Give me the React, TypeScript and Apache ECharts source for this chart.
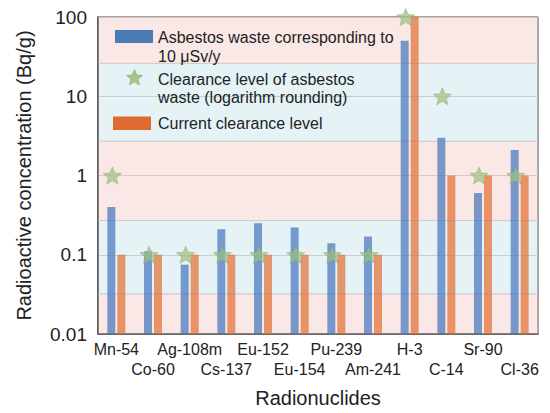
import React, { useEffect, useRef } from "react";
import * as echarts from "echarts";

const categories = [
  "Mn-54", "Co-60", "Ag-108m", "Cs-137", "Eu-152", "Eu-154",
  "Pu-239", "Am-241", "H-3", "C-14", "Sr-90", "Cl-36",
];
const asbestos10uSv = [0.4, 0.11, 0.075, 0.21, 0.25, 0.22, 0.14, 0.17, 50, 3.0, 0.6, 2.1];
const asbestosClearance = [1, 0.1, 0.1, 0.1, 0.1, 0.1, 0.1, 0.1, 100, 10, 1, 1];
const currentClearance = [0.1, 0.1, 0.1, 0.1, 0.1, 0.1, 0.1, 0.1, 100, 1, 1, 1];
const yTicks = [0.01, 0.1, 1, 10, 100];
const bandEdges = [0.01, 0.032, 0.27, 2.7, 26, 100];

const FONT = "'Liberation Sans', Arial, Helvetica, sans-serif";
const PINK = "rgba(238,188,182,0.34)";
const BLUE = "rgba(168,214,230,0.3)";
const BAR_W = 8;

function starPoints(cx: number, cy: number, r: number): number[][] {
  const pts: number[][] = [];
  for (let k = 0; k < 10; k++) {
    const a = ((-90 + 36 * k) * Math.PI) / 180;
    const rr = k % 2 === 0 ? r : r * 0.45;
    pts.push([cx + rr * Math.cos(a), cy + rr * Math.sin(a)]);
  }
  return pts;
}
const starPath =
  "path://" +
  starPoints(10, 10, 10)
    .map((p, i) => (i === 0 ? "M" : "L") + p[0].toFixed(3) + " " + p[1].toFixed(3))
    .join(" ") +
  " Z";

function barRenderer(offset: number, color: string) {
  return (params: any, api: any) => {
    const idx = api.value(0);
    const top = api.coord([idx, api.value(1)]);
    const base = api.coord([idx, yTicks[0]]);
    const cx = top[0] + offset;
    return {
      type: "rect",
      shape: { x: cx - BAR_W / 2, y: top[1], width: BAR_W, height: base[1] - top[1] },
      style: { fill: color },
    };
  };
}

export default function App() {
  const ref = useRef<HTMLDivElement>(null);
  useEffect(() => {
    if (!ref.current) return;
    const chart = echarts.init(ref.current, null, { renderer: "svg" });
    const bands = bandEdges.slice(0, -1).map((lo, i) => [
      { yAxis: lo, itemStyle: { color: i % 2 === 0 ? PINK : BLUE } },
      { yAxis: bandEdges[i + 1] },
    ]);
    chart.setOption({
      animation: false,
      textStyle: { fontFamily: FONT },
      grid: {
        left: 98,
        right: 12,
        top: 17,
        bottom: 75,
        show: true,
        backgroundColor: "#fff",
        borderColor: "#333",
        borderWidth: 1,
      },
      xAxis: {
        type: "category",
        data: categories,
        name: "Radionuclides",
        nameLocation: "middle",
        nameGap: 54,
        nameTextStyle: { fontSize: 20, color: "#222", fontFamily: FONT },
        axisLine: { lineStyle: { color: "#222", width: 1.5 } },
        axisTick: { show: false },
        axisLabel: {
          interval: 0,
          fontSize: 16,
          lineHeight: 20,
          margin: 5,
          color: "#222",
          fontFamily: FONT,
          formatter: (v: string, i: number) => (i % 2 === 1 ? "\n" + v : v),
        },
      },
      yAxis: {
        type: "log",
        logBase: 10,
        min: yTicks[0],
        max: yTicks[yTicks.length - 1],
        name: "Radioactive concentration (Bq/g)",
        nameLocation: "middle",
        nameGap: 64,
        nameTextStyle: { fontSize: 20, color: "#222", fontFamily: FONT },
        axisLine: { show: true, lineStyle: { color: "#222", width: 1.5 } },
        axisTick: { show: false },
        axisLabel: {
          fontSize: 19,
          color: "#222",
          margin: 11,
          fontFamily: FONT,
          formatter: (v: number) => String(v),
        },
        splitLine: { show: true, lineStyle: { color: "#cfcfcf", width: 1 } },
      },
      series: [
        {
          type: "line",
          name: "bands",
          data: [],
          z: 1,
          silent: true,
          markArea: {
            silent: true,
            itemStyle: { borderColor: "rgba(200,190,190,0.5)", borderWidth: 1 },
            data: bands,
          },
        },
        {
          type: "custom",
          name: "Asbestos waste corresponding to 10 μSv/y",
          data: asbestos10uSv.map((v, i) => [i, v]),
          encode: { x: 0, y: 1 },
          z: 2,
          renderItem: barRenderer(-5, "rgba(70,118,190,0.72)"),
        },
        {
          type: "custom",
          name: "Current clearance level",
          data: currentClearance.map((v, i) => [i, v]),
          encode: { x: 0, y: 1 },
          z: 2,
          renderItem: barRenderer(5, "rgba(226,108,48,0.7)"),
        },
        {
          type: "scatter",
          name: "Clearance level of asbestos waste (logarithm rounding)",
          data: asbestosClearance,
          symbol: starPath,
          symbolSize: 18,
          symbolKeepAspect: true,
          symbolOffset: [-4, 0],
          z: 3,
          itemStyle: {
            color: "rgba(158,192,128,0.9)",
            borderColor: "rgba(130,165,100,0.9)",
            borderWidth: 0.6,
          },
        },
      ],
      graphic: [
        { type: "rect", shape: { x: 115, y: 30, width: 38, height: 13 }, style: { fill: "#4a7ab5" }, z: 10 },
        { type: "text", x: 158, y: 28, style: { text: "Asbestos waste corresponding to\n10 μSv/y", fontSize: 16, lineHeight: 19, fill: "#222", font: "16px " + FONT }, z: 10 },
        { type: "polygon", shape: { points: starPoints(134.5, 78, 8.5) }, style: { fill: "rgba(158,192,128,0.9)", stroke: "rgba(130,165,100,0.9)", lineWidth: 0.6 }, z: 10 },
        { type: "text", x: 158, y: 70, style: { text: "Clearance level of asbestos\nwaste (logarithm rounding)", fontSize: 16, lineHeight: 18, fill: "#222", font: "16px " + FONT }, z: 10 },
        { type: "rect", shape: { x: 113, y: 116.5, width: 38, height: 13.5 }, style: { fill: "#dd6b30" }, z: 10 },
        { type: "text", x: 158, y: 114, style: { text: "Current clearance level", fontSize: 16, lineHeight: 19, fill: "#222", font: "16px " + FONT }, z: 10 },
      ],
    });
    return () => chart.dispose();
  }, []);
  return <div ref={ref} style={{ width: 550, height: 413, margin: -8 }} />;
}
